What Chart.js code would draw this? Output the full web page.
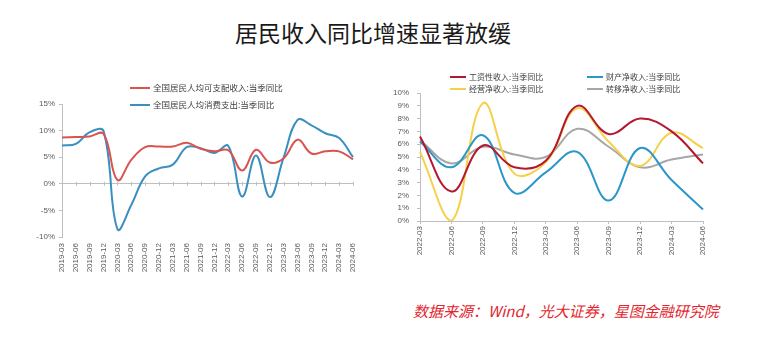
<!DOCTYPE html>
<html>
<head>
<meta charset="utf-8">
<script src="https://cdn.jsdelivr.net/npm/chart.js@4.4.1/dist/chart.umd.min.js"></script>
<style>
  html, body { margin: 0; padding: 0; background: #fff; }
  body { width: 765px; height: 354px; position: relative; overflow: hidden; font-family: "Noto Sans CJK SC", "Liberation Sans", sans-serif; }
  #title { position: absolute; left: 0; width: 746px; top: 17px; text-align: center; font-size: 23px; color: #1a1a1a; line-height: 30px; }
  #source { position: absolute; left: 413px; top: 301px; font-size: 15px; font-style: italic; color: #e3262d; line-height: 20px; white-space: nowrap; }
  .cv { position: absolute; }
  .leg { position: absolute; font-size: 8.5px; color: #404040; white-space: nowrap; line-height: 12px; }
  .leg .ln { display: inline-block; width: 20px; height: 2px; vertical-align: middle; margin-right: 3px; position: relative; top: -1px; }
</style>
</head>
<body>
<div id="title">居民收入同比增速显著放缓</div>
<div class="cv" style="left:0px;top:90px;width:370px;height:210px;"><canvas id="c1"></canvas></div>
<div class="cv" style="left:380px;top:80px;width:385px;height:200px;"><canvas id="c2"></canvas></div>
<div id="legends"></div>
<div id="source">数据来源：Wind，光大证券，星图金融研究院</div>
<script>
// ---------- Left panel data ----------
const quartersLeft = ['2019-03','2019-06','2019-09','2019-12','2020-03','2020-06','2020-09','2020-12',
  '2021-03','2021-06','2021-09','2021-12','2022-03','2022-06','2022-09','2022-12',
  '2023-03','2023-06','2023-09','2023-12','2024-03','2024-06'];
const incomeYoY = [8.7, 8.8, 8.9, 9.4, 0.7, 4.5, 6.9, 7.0, 7.0, 7.7, 6.6, 6.1, 6.3, 2.5, 6.4, 4.0, 4.8, 8.3, 5.7, 6.1, 6.1, 4.6];
const consumptionYoY = [7.2, 7.5, 9.7, 9.9, -8.5, -4.0, 1.4, 2.9, 3.6, 6.9, 6.7, 5.8, 7.1, -2.4, 5.3, -2.5, 5.0, 12.0, 11.0, 9.5, 8.6, 5.0];
const leftNames = ['全国居民人均可支配收入:当季同比', '全国居民人均消费支出:当季同比'];
const leftTicks = [-10, -5, 0, 5, 10, 15];

// ---------- Right panel data ----------
const quartersRight = ['2022-03','2022-06','2022-09','2022-12','2023-03','2023-06','2023-09','2023-12','2024-03','2024-06'];
const wageYoY     = [6.6, 2.3, 5.9, 4.2, 4.7, 9.0, 6.8, 8.0, 7.0, 4.5];
const propertyYoY = [6.2, 4.2, 6.7, 2.2, 3.8, 5.4, 1.6, 5.7, 3.2, 0.9];
const businessYoY = [5.4, 0.0, 9.2, 3.7, 4.6, 8.8, 6.2, 4.3, 6.9, 5.7];
const transferYoY = [6.3, 4.5, 5.8, 5.2, 5.0, 7.2, 5.8, 4.2, 4.8, 5.2];
const rightNames = ['工资性收入:当季同比', '财产净收入:当季同比', '经营净收入:当季同比', '转移净收入:当季同比'];
const rightTicks = [0, 1, 2, 3, 4, 5, 6, 7, 8, 9, 10];

// ---------- Styles ----------
const leftColors = ['#d9534f', '#3a8fc0'];
const rightColors = ['#b5172f', '#2b97c9', '#f7d04a', '#a6a6a6'];
const axisColor = '#bfbfbf';

Chart.defaults.font.family = "'Liberation Sans', 'Noto Sans CJK SC', sans-serif";
Chart.defaults.font.size = 8;
Chart.defaults.color = '#595959';
Chart.defaults.animation = false;
Chart.defaults.responsive = true;
Chart.defaults.maintainAspectRatio = false;

const zeroTicks = {
  id: 'zeroTicks',
  afterDatasetsDraw(chart) {
    const xs = chart.scales.x, ys = chart.scales.y;
    const y0 = ys.getPixelForValue(0);
    const ctx = chart.ctx;
    ctx.save();
    ctx.strokeStyle = axisColor;
    ctx.lineWidth = 1;
    for (let i = 0; i < xs.getLabels().length; i++) {
      const x = Math.round(xs.getPixelForValue(i)) + 0.5;
      ctx.beginPath();
      ctx.moveTo(x, y0 - 2);
      ctx.lineTo(x, y0 + 2);
      ctx.stroke();
    }
    ctx.restore();
  }
};

function lineDs(label, data, color) {
  return { label, data, borderColor: color, backgroundColor: color, borderWidth: 2,
           pointRadius: 0, tension: 0.4, fill: false };
}

new Chart(document.getElementById('c1'), {
  type: 'line',
  data: {
    labels: quartersLeft,
    datasets: [
      lineDs(leftNames[0], incomeYoY, leftColors[0]),
      lineDs(leftNames[1], consumptionYoY, leftColors[1])
    ]
  },
  options: {
    layout: { padding: { top: 14, right: 17, left: 0, bottom: 0 } },
    plugins: { legend: { display: false }, tooltip: { enabled: false } },
    scales: {
      x: {
        ticks: { minRotation: 90, maxRotation: 90, autoSkip: false, padding: 6, font: { size: 8 } },
        grid: { display: false, drawTicks: false },
        border: { display: false },
        afterFit(s) { s.height = 63; }
      },
      y: {
        min: leftTicks[0], max: leftTicks[leftTicks.length - 1],
        afterBuildTicks(s) { s.ticks = leftTicks.map(v => ({ value: v })); },
        ticks: { callback: v => v + '%', padding: 4, font: { size: 8 } },
        grid: { color: c => (c.tick && c.tick.value === 0 ? axisColor : 'rgba(0,0,0,0)'), tickColor: axisColor, tickLength: 3, lineWidth: 1 },
        border: { color: axisColor },
        afterFit(s) { s.width = 62; }
      }
    }
  },
  plugins: [zeroTicks]
});

new Chart(document.getElementById('c2'), {
  type: 'line',
  data: {
    labels: quartersRight,
    datasets: [
      lineDs(rightNames[0], wageYoY, rightColors[0]),
      lineDs(rightNames[1], propertyYoY, rightColors[1]),
      lineDs(rightNames[2], businessYoY, rightColors[2]),
      lineDs(rightNames[3], transferYoY, rightColors[3])
    ]
  },
  options: {
    layout: { padding: { top: 13, right: 62, left: 0, bottom: 0 } },
    plugins: { legend: { display: false }, tooltip: { enabled: false } },
    scales: {
      x: {
        ticks: { minRotation: 90, maxRotation: 90, autoSkip: false, padding: 2, font: { size: 8 } },
        grid: { drawOnChartArea: false, tickLength: 3, color: axisColor },
        border: { color: axisColor },
        afterFit(s) { s.height = 59; }
      },
      y: {
        min: rightTicks[0], max: rightTicks[rightTicks.length - 1],
        afterBuildTicks(s) { s.ticks = rightTicks.map(v => ({ value: v })); },
        ticks: { callback: v => v + '%', padding: 8, font: { size: 8 } },
        grid: { drawOnChartArea: false, tickLength: 3, color: axisColor },
        border: { color: axisColor },
        afterFit(s) { s.width = 40; }
      }
    }
  }
});

// ---------- HTML legends (text from the named series) ----------
const legendSpec = [
  { name: leftNames[0], color: leftColors[0], x: 130, y: 81 },
  { name: leftNames[1], color: leftColors[1], x: 130, y: 98 },
  { name: rightNames[0], color: rightColors[0], x: 450, y: 71, small: true },
  { name: rightNames[1], color: rightColors[1], x: 587, y: 71, small: true },
  { name: rightNames[2], color: rightColors[2], x: 450, y: 83, small: true },
  { name: rightNames[3], color: rightColors[3], x: 587, y: 83, small: true }
];
const legHost = document.getElementById('legends');
legendSpec.forEach(s => {
  const d = document.createElement('div');
  d.className = 'leg';
  d.style.left = s.x + 'px';
  d.style.top = s.y + 'px';
  if (s.small) d.style.fontSize = '8px';
  const ln = document.createElement('span');
  ln.className = 'ln';
  ln.style.background = s.color;
  if (s.small) ln.style.width = '16px';
  d.appendChild(ln);
  d.appendChild(document.createTextNode(s.name));
  legHost.appendChild(d);
});
</script>
</body>
</html>
